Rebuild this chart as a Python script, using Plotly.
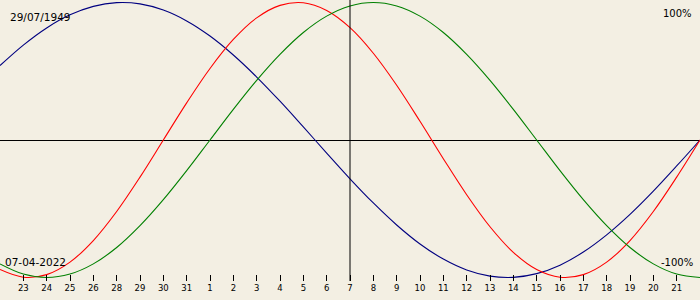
import plotly.graph_objects as go

# Day labels along the bottom (index 0..30, today = index 15)
tick_labels = ["23", "24", "25", "26", "28", "29", "30", "31", "1", "2", "3", "4", "5", "6", "7",
               "8", "9", "10", "11", "12", "13", "14", "15", "16", "17", "18", "19", "20", "21"]
today_label = "7"
birth_date = "29/07/1949"
current_date = "07-04-2022"

# Biorhythm values read per day, index 0..30 (range -1 .. 1)
physical = [-0.942, -0.998, -0.979, -0.888, -0.731, -0.520, -0.270, 0.000, 0.270, 0.520,
            0.731, 0.888, 0.979, 0.998, 0.942, 0.817, 0.631, 0.398, 0.136, -0.136,
            -0.398, -0.631, -0.817, -0.942, -0.998, -0.979, -0.888, -0.731, -0.520, -0.270, 0.000]
emotional = [-0.901, -0.975, -1.000, -0.975, -0.901, -0.782, -0.623, -0.434, -0.223, 0.000,
             0.223, 0.434, 0.623, 0.782, 0.901, 0.975, 1.000, 0.975, 0.901, 0.782,
             0.623, 0.434, 0.223, 0.000, -0.223, -0.434, -0.623, -0.782, -0.901, -0.975, -1.000]
intellectual = [0.541, 0.690, 0.815, 0.910, 0.972, 0.999, 0.990, 0.945, 0.866, 0.756,
                0.618, 0.458, 0.282, 0.095, -0.095, -0.282, -0.458, -0.618, -0.756, -0.866,
                -0.945, -0.990, -0.999, -0.972, -0.910, -0.815, -0.690, -0.541, -0.372, -0.189, 0.000]

BG = "#F3EFE3"
x = list(range(len(physical)))
tick_pos = list(range(1, len(tick_labels) + 1))
today_idx = tick_pos[tick_labels.index(today_label)]

fig = go.Figure()
for vals, col in [(intellectual, "#000080"), (physical, "#FF0000"), (emotional, "#008000")]:
    fig.add_trace(go.Scatter(x=x, y=vals, mode="lines",
                             line=dict(color=col, width=1.1, shape="spline", smoothing=1),
                             hoverinfo="skip", showlegend=False))

fig.add_shape(type="line", xref="x", yref="paper", x0=today_idx, x1=today_idx,
              y0=1 - 281 / 300, y1=1, line=dict(color="black", width=1), layer="above")

font_main = dict(family="DejaVu Sans", size=10.5, color="black")
fig.add_annotation(text=birth_date, xref="paper", yref="paper", x=8 / 700, y=1 - 17 / 300,
                   xanchor="left", yanchor="middle", showarrow=False, font=font_main)
fig.add_annotation(text=current_date, xref="paper", yref="paper", x=3 / 700, y=1 - 262 / 300,
                   xanchor="left", yanchor="middle", showarrow=False, font=font_main)
fig.add_annotation(text="100%", xref="paper", yref="paper", x=694 / 700, y=1 - 13 / 300,
                   xanchor="right", yanchor="middle", showarrow=False,
                   font=dict(family="DejaVu Sans", size=10, color="black"))
fig.add_annotation(text="-100%", xref="paper", yref="paper", x=695 / 700, y=1 - 262 / 300,
                   xanchor="right", yanchor="middle", showarrow=False,
                   font=dict(family="DejaVu Sans", size=10, color="black"))

fig.update_layout(
    width=700, height=300,
    margin=dict(l=0, r=0, t=0, b=0),
    paper_bgcolor=BG, plot_bgcolor=BG,
    xaxis=dict(range=[0, 30], domain=[0, 1], anchor="free", position=26 / 300,
               showgrid=False, zeroline=False, showline=False,
               tickmode="array", tickvals=tick_pos, ticktext=tick_labels,
               ticks="outside", ticklen=6, tickwidth=1, tickcolor="black",
               tickfont=dict(family="DejaVu Sans", size=8.5, color="black"),
               fixedrange=True),
    yaxis=dict(range=[-160 / 137.5, 140 / 137.5], domain=[0, 1],
               showgrid=False, showticklabels=False, showline=False,
               zeroline=True, zerolinecolor="black", zerolinewidth=1,
               fixedrange=True),
)

fig.write_html("out.html")
